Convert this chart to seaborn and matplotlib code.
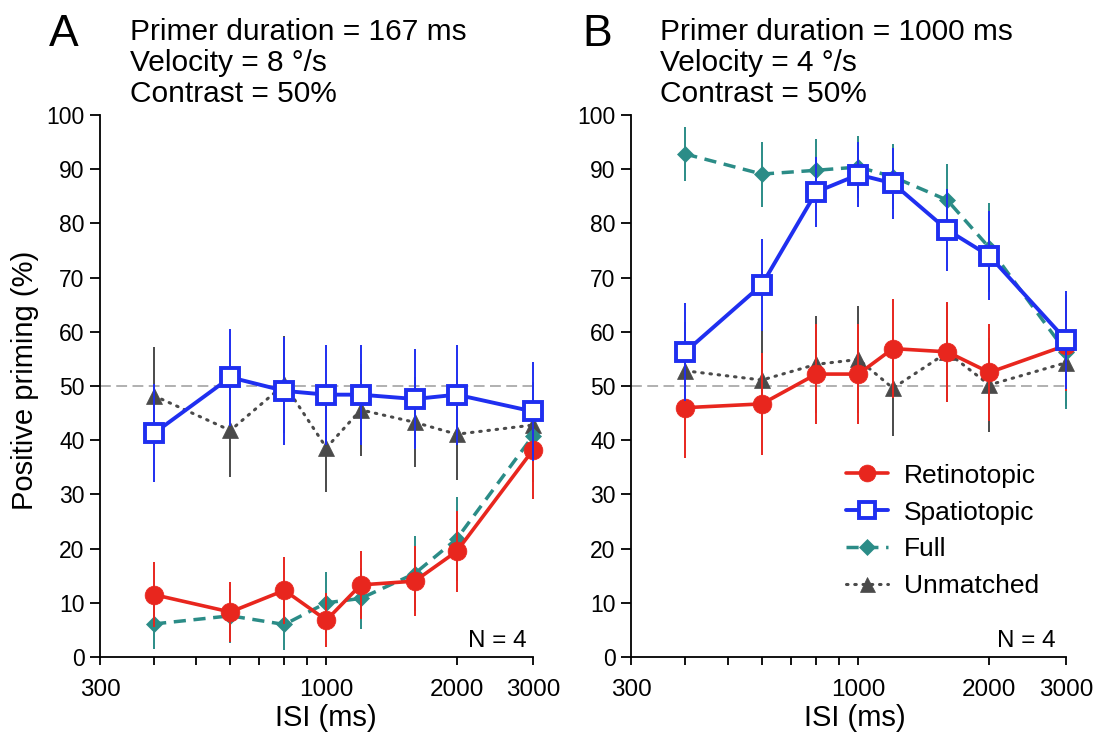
import matplotlib
matplotlib.use("Agg")
import matplotlib.pyplot as plt
from matplotlib.lines import Line2D
from matplotlib.ticker import NullLocator
import seaborn as sns

# ---------------- data ----------------
isi = [400, 600, 800, 1000, 1200, 1600, 2000, 3000]

ret_A = [11.5, 8.3, 12.3, 6.8, 13.3, 14.0, 19.5, 38.2]
ret_A_err = [6.0, 5.5, 6.2, 5.0, 6.3, 6.5, 7.5, 9.0]
spa_A = [41.3, 51.6, 49.1, 48.4, 48.4, 47.6, 48.4, 45.3]
spa_A_err = [9.0, 9.0, 10.0, 9.2, 9.2, 9.2, 9.2, 9.2]
full_A = [6.1, 7.6, 6.0, 10.0, 10.8, 15.4, 21.8, 40.8]
full_A_err = [4.7, 5.0, 4.8, 5.6, 5.7, 6.9, 7.7, 8.5]
unm_A = [48.2, 41.8, 50.3, 38.6, 45.6, 43.3, 41.1, 42.8]
unm_A_err = [9.0, 8.5, 9.0, 8.2, 8.5, 8.3, 8.5, 8.0]

ret_B = [46.0, 46.7, 52.2, 52.2, 56.9, 56.3, 52.5, 57.5]
ret_B_err = [9.2, 9.4, 9.2, 9.2, 9.1, 9.2, 9.0, 8.5]
spa_B = [56.3, 68.7, 85.8, 89.0, 87.4, 78.8, 74.0, 58.5]
spa_B_err = [9.0, 8.5, 6.4, 6.0, 6.5, 7.6, 8.2, 9.0]
full_B = [92.8, 89.1, 89.8, 90.4, 88.6, 84.3, 75.5, 56.3]
full_B_err = [5.0, 6.0, 5.7, 5.8, 6.0, 6.7, 8.2, 10.5]
unm_B = [52.8, 51.1, 54.0, 54.9, 49.6, 56.2, 50.2, 54.3]
unm_B_err = [9.0, 9.2, 9.0, 9.8, 8.8, 9.2, 8.6, 8.0]

series_names = ["Retinotopic", "Spatiotopic", "Full", "Unmatched"]
panel_letters = ["A", "B"]
panel_titles = [
    ["Primer duration = 167 ms", "Velocity = 8 °/s", "Contrast = 50%"],
    ["Primer duration = 1000 ms", "Velocity = 4 °/s", "Contrast = 50%"],
]
xtick_vals = [300, 400, 500, 600, 700, 800, 900, 1000, 2000, 3000]
xtick_labels = ["300", "", "", "", "", "", "", "1000", "2000", "3000"]
ytick_vals = list(range(0, 101, 10))

# ---------------- style ----------------
sns.set_style("ticks")
plt.rcParams["font.family"] = ["Liberation Sans", "DejaVu Sans"]
plt.rcParams["text.color"] = "black"
plt.rcParams["axes.labelcolor"] = "black"
plt.rcParams["xtick.color"] = "black"
plt.rcParams["ytick.color"] = "black"
plt.rcParams["axes.edgecolor"] = "black"

RED = "#e8261e"
BLUE = "#1f2ff0"
TEAL = "#2b8c87"
GRAY = "#4a4a4a"

styles = {
    "Unmatched": dict(color=GRAY, marker="^", markersize=12, linewidth=2.2,
                      linestyle=(0, (0.5, 2.2)), dash_capstyle="round",
                      markerfacecolor=GRAY, markeredgecolor=GRAY, markeredgewidth=0.5, zorder=3),
    "Full": dict(color=TEAL, marker="D", markersize=8.5, linewidth=2.5,
                 linestyle=(0, (3.5, 2.2)), markerfacecolor=TEAL,
                 markeredgecolor=TEAL, markeredgewidth=0.5, zorder=4),
    "Retinotopic": dict(color=RED, marker="o", markersize=13.5, linewidth=2.6,
                        linestyle="-", markerfacecolor=RED, markeredgecolor=RED,
                        markeredgewidth=0.5, zorder=5),
    "Spatiotopic": dict(color=BLUE, marker="s", markersize=12.5, linewidth=2.8,
                        linestyle="-", markerfacecolor="white", markeredgecolor=BLUE,
                        markeredgewidth=2.8, zorder=6),
}

fig = plt.figure(figsize=(10.99, 7.42), dpi=100)
W, H = 1099, 742
axA = fig.add_axes([100 / W, 1 - 657 / H, 433 / W, 542 / H])
axB = fig.add_axes([631 / W, 1 - 657 / H, 435 / W, 542 / H])

panels = [
    (axA, {"Retinotopic": (ret_A, ret_A_err), "Spatiotopic": (spa_A, spa_A_err),
           "Full": (full_A, full_A_err), "Unmatched": (unm_A, unm_A_err)}),
    (axB, {"Retinotopic": (ret_B, ret_B_err), "Spatiotopic": (spa_B, spa_B_err),
           "Full": (full_B, full_B_err), "Unmatched": (unm_B, unm_B_err)}),
]

for ax, data in panels:
    ax.set_xscale("log")
    ax.axhline(50, color="#aaaaaa", linewidth=1.3, linestyle=(0, (6, 3)), zorder=1)
    for name in ["Unmatched", "Full", "Retinotopic", "Spatiotopic"]:
        vals, errs = data[name]
        st = styles[name]
        ax.errorbar(isi, vals, yerr=errs, fmt="none", ecolor=st["color"],
                    elinewidth=1.4, capsize=0, zorder=st["zorder"] - 0.5, clip_on=False)
        sns.lineplot(x=isi, y=vals, ax=ax, errorbar=None, sort=False,
                     clip_on=False, **st)
    leg = ax.get_legend()
    if leg is not None:
        leg.remove()
    ax.set_xlim(300, 3000)
    ax.set_ylim(0, 100)
    ax.set_xticks(xtick_vals)
    ax.set_xticklabels(xtick_labels)
    ax.xaxis.set_minor_locator(NullLocator())
    ax.set_yticks(ytick_vals)
    ax.set_xlabel("")
    ax.set_ylabel("")
    for s in ["top", "right"]:
        ax.spines[s].set_visible(False)
    for s in ["left", "bottom"]:
        ax.spines[s].set_linewidth(1.3)
        ax.spines[s].set_color("black")
    ax.tick_params(axis="x", length=6, width=1.3, labelsize=17.5, pad=10,
                   color="black", labelcolor="black")
    ax.tick_params(axis="y", length=7, width=1.3, labelsize=16.5, pad=4,
                   color="black", labelcolor="black")

axA.text(0.986, 0.018, "N = 4", transform=axA.transAxes, ha="right", va="baseline",
         fontsize=17.5, color="black")
axB.text(0.977, 0.018, "N = 4", transform=axB.transAxes, ha="right", va="baseline",
         fontsize=17.5, color="black")

# titles
for letter_x, title_x, letter, lines in [(49 / W, 130 / W, panel_letters[0], panel_titles[0]),
                                          (582 / W, 660 / W, panel_letters[1], panel_titles[1])]:
    fig.text(letter_x, 1 - 46 / H, letter, fontsize=32, ha="left", va="baseline", color="black")
    for ln, yb in zip(lines, [40, 71, 102]):
        fig.text(title_x, 1 - yb / H, ln, fontsize=21.5, ha="left", va="baseline", color="black")

# axis labels
fig.text(25 / W, 1 - 380 / H, "Positive priming (%)", rotation=90, ha="center", va="center",
         fontsize=21, color="black")
fig.text(326 / W, 1 - 718 / H, "ISI (ms)", ha="center", va="center", fontsize=21, color="black")
fig.text(855 / W, 1 - 718 / H, "ISI (ms)", ha="center", va="center", fontsize=21, color="black")

# legend in panel B
handles = []
for name in series_names:
    st = dict(styles[name])
    st.pop("zorder")
    handles.append(Line2D([], [], **st))
leg = axB.legend(handles, series_names, loc="center left", bbox_to_anchor=(0.4645, 0.2325),
                 frameon=False, fontsize=19, handlelength=1.6, handletextpad=0.6,
                 labelspacing=0.49, borderpad=0, markerscale=0.9)
for t in leg.get_texts():
    t.set_color("black")

fig.savefig("out.png", dpi=100)
